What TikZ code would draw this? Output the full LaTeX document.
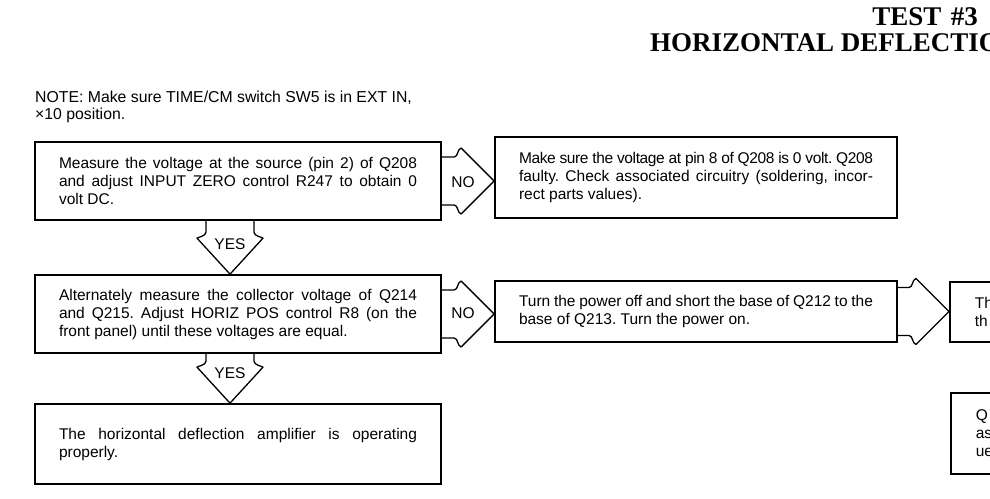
\documentclass[tikz,border=0pt]{standalone}
\usepackage{fontspec}
\setmainfont{Liberation Sans}
\newfontfamily\headfont{Liberation Serif}
\usetikzlibrary{calc}
\frenchspacing

\begin{document}
\begin{tikzpicture}[
    x=1pt,y=-1pt,
    stepbox/.style={draw=black,line width=1.7pt,align=justify,
                    text width=#1,inner xsep=24pt,inner ysep=0pt,
                    font=\fontsize{15.5}{18}\selectfont},
    stepbox/.default=358pt,
    edgebox/.style={draw=black,line width=1.7pt,align=left,anchor=west,
                    text width=354pt,inner xsep=25pt,inner ysep=0pt,
                    font=\fontsize{15.5}{18}\selectfont},
    blockarrow/.style={draw=black,line width=1.3pt,line join=round},
    tag/.style={inner sep=0pt,font=\fontsize{15.5}{18}\selectfont},
    heading/.style={inner sep=0pt,font={\headfont\bfseries\fontsize{27}{30}\selectfont}}
  ]
    \useasboundingbox (0,0) rectangle (990,498);
    \clip (0,0) rectangle (990,498);

    \node[heading,anchor=base east] (test) at (978,25) {TEST\hspace{0.35em}\#3};
    \node[heading,anchor=base west] (title) at (650,51) {HORIZONTAL DEFLECTIO};

    \node[anchor=north west,align=left,inner sep=0pt,
          font=\fontsize{15.8}{17}\selectfont] (note) at (35,91)
      {NOTE: Make sure TIME/CM switch SW5 is in EXT IN,\\×10 position.};

    \node[stepbox,minimum height=78pt] (m1) at (238,181)
      {Measure the voltage at the source (pin 2) of Q208\linebreak
       and adjust INPUT ZERO control R247 to obtain 0\linebreak volt DC.};
    \node[stepbox=354pt,minimum height=81pt] (n1) at (696,177.5)
      {{\addfontfeature{LetterSpace=-2.5}Make sure the voltage at pin 8 of Q208 is 0 volt. Q208}\linebreak
       faulty. Check associated circuitry (soldering, incor-\linebreak rect parts values).};
    \node[stepbox,minimum height=78pt] (m2) at (238,314)
      {Alternately measure the collector voltage of Q214\linebreak
       and Q215. Adjust HORIZ POS control R8 (on the\linebreak
       front panel) until these voltages are equal.};
    \node[stepbox=354pt,minimum height=61pt] (n2) at (696,311.5)
      {Turn the power off and short the base of Q212 to the\linebreak
       base of Q213. Turn the power on.};
    \node[stepbox,minimum height=80pt] (m3) at (238,444)
      {The horizontal deflection amplifier is operating\linebreak properly.};
    \node[edgebox,minimum height=60pt] (r1) at (949,312) {Th\\th};
    \node[edgebox,minimum height=81pt] (r2) at (950,433.5) {Q\\as\\ue};

    \foreach \a/\b in {m1/n1,m2/n2,n2/r1}
      \draw[blockarrow] let \p1=(\a.east), \p2=(\b.west) in
        (\x1,{\y1+24pt}) -- ({\x2-40pt},{\y1+24pt})
          .. controls ({\x2-36pt},{\y1+24pt}) and ({\x2-37pt},{\y1+32pt}) .. ({\x2-33pt},{\y1+33pt})
          -- (\x2,\y1) -- ({\x2-33pt},{\y1-33pt})
          .. controls ({\x2-37pt},{\y1-32pt}) and ({\x2-36pt},{\y1-24pt}) .. ({\x2-40pt},{\y1-24pt})
          -- (\x1,{\y1-24pt});

    \foreach \a/\b in {m1/m2,m2/m3}
      \draw[blockarrow] let \p1=([xshift=-8pt]\a.south), \p2=(\b.north) in
        ({\x1-24pt},\y1) -- ({\x1-24pt},{\y2+42pt})
          .. controls ({\x1-24pt},{\y2+38pt}) and ({\x1-32pt},{\y2+37pt}) .. ({\x1-33pt},{\y2+36pt})
          -- (\x1,\y2) -- ({\x1+33pt},{\y2+36pt})
          .. controls ({\x1+32pt},{\y2+37pt}) and ({\x1+24pt},{\y2+38pt}) .. ({\x1+24pt},{\y2+42pt})
          -- ({\x1+24pt},\y1)
        node[tag] at (\x1,{\y2+30pt}) {YES};

    \node[tag] (no1) at (463,182) {NO};
    \node[tag] (no2) at (463,313) {NO};
  \end{tikzpicture}
\end{document}
